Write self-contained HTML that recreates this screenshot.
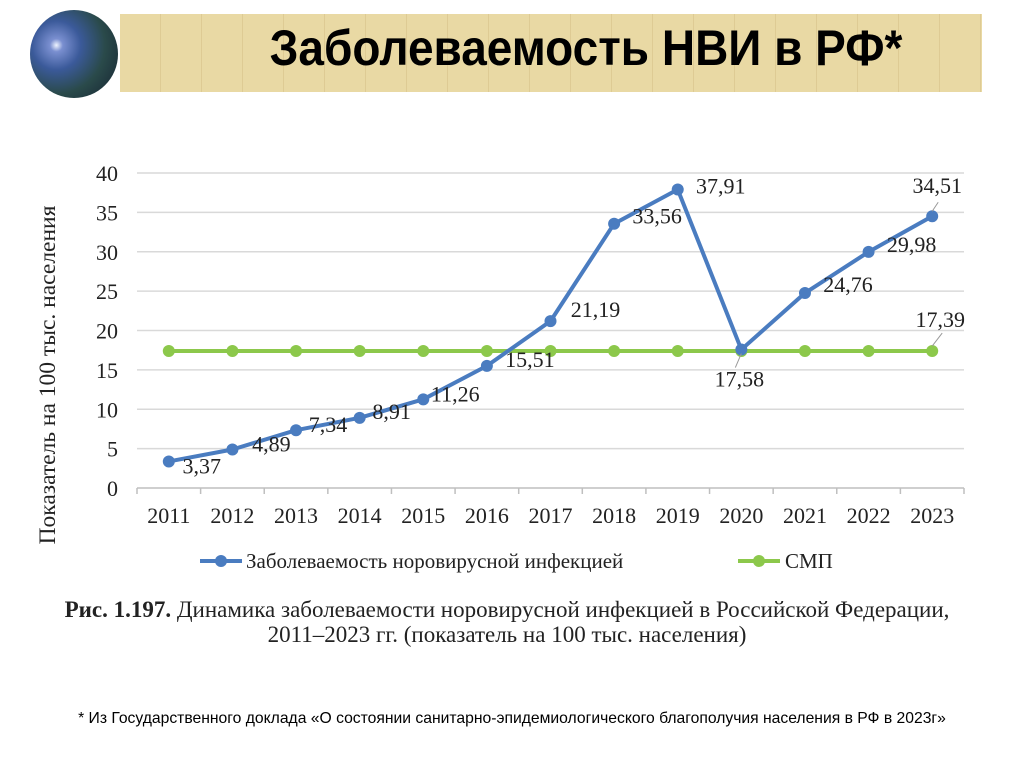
<!DOCTYPE html>
<html><head><meta charset="utf-8">
<style>
body{margin:0;width:1024px;height:767px;background:#fff;overflow:hidden;position:relative;font-family:"Liberation Sans",sans-serif}
#banner{position:absolute;left:120px;top:14px;width:862px;height:78px;background:#e9d9a4;background-image:repeating-linear-gradient(90deg,transparent 0,transparent 40px,rgba(190,160,100,0.25) 40px,rgba(190,160,100,0.25) 41px)}
#globe{position:absolute;left:30px;top:10px;width:88px;height:88px;border-radius:50%;background:radial-gradient(circle at 30% 40%,#eef4ff 0,#7a8fd0 8%,#3b5a9a 30%,#2a4a4a 60%,#142030 100%)}
#title{position:absolute;left:155px;width:862px;top:23px;line-height:50px;text-align:center;font-weight:bold;font-size:50px;color:#000;font-family:"Liberation Sans",sans-serif;transform:scaleX(0.92)}
#foot{position:absolute;left:0;width:1024px;top:710px;text-align:center;font-size:15.7px;color:#000}
</style></head><body>
<div id="banner"></div>
<div id="globe"></div>
<div id="title">Заболеваемость НВИ в РФ*</div>
<svg id="chart" width="1024" height="767" style="position:absolute;left:0;top:0"></svg>
<div id="foot">* Из Государственного доклада «О состоянии санитарно-эпидемиологического благополучия населения в РФ в 2023г»</div>
<script>
const years=["2011","2012","2013","2014","2015","2016","2017","2018","2019","2020","2021","2022","2023"];
const nviValues=[3.37,4.89,7.34,8.91,11.26,15.51,21.19,33.56,37.91,17.58,24.76,29.98,34.51];
const smpValues=[17.39,17.39,17.39,17.39,17.39,17.39,17.39,17.39,17.39,17.39,17.39,17.39,17.39];
const yTicks=[0,5,10,15,20,25,30,35,40];
const nviLabels=["3,37","4,89","7,34","8,91","11,26","15,51","21,19","33,56","37,91","17,58","24,76","29,98","34,51"];
const smpLabel="17,39";
// label offsets (layout only)
const ldx=[33,39,32,32,32,43,45,43,43,-2,43,43,5];
const ldy=[12,2,2,1,2,1,-4,0,4,37,-1,0,-23];
const NS="http://www.w3.org/2000/svg";
const svg=document.getElementById('chart');
const L=137,R=964,T=173,B=488,YMAX=40;
const bw=(R-L)/years.length;
const x=i=>L+bw*(i+0.5);
const y=v=>B-(v/YMAX)*(B-T);
function mk(t,a,p){const e=document.createElementNS(NS,t);for(const k in a)e.setAttribute(k,a[k]);(p||svg).appendChild(e);return e;}
const serif='"Liberation Serif",serif';
yTicks.forEach(t=>{
 const g=mk('line',{x1:L,x2:R,y1:y(t),y2:y(t),stroke:t===0?'#bfbfbf':'#d9d9d9','stroke-width':1.5});
 
 
 const tx=mk('text',{x:118,y:y(t)+8,'text-anchor':'end','font-size':22,'font-family':serif,fill:'#222'});tx.textContent=t;
 
 
});
years.forEach((yr,i)=>{
 mk('line',{x1:L+bw*i,x2:L+bw*i,y1:B,y2:B+6,stroke:'#bfbfbf','stroke-width':1.5});
 const tx=mk('text',{x:x(i),y:523,'text-anchor':'middle','font-size':22,'font-family':serif,fill:'#222'});tx.textContent=yr;
 
 
});
mk('line',{x1:R,x2:R,y1:B,y2:B+6,stroke:'#bfbfbf','stroke-width':1.5});
const yt=mk('text',{x:0,y:0,transform:'translate(55,375) rotate(-90)','text-anchor':'middle','font-size':23.5,'font-family':serif,fill:'#222'});
yt.textContent='Показатель на 100 тыс. населения';


function series(vals,color,name){
 const p=mk('polyline',{points:vals.map((v,i)=>x(i)+','+y(v)).join(' '),fill:'none',stroke:color,'stroke-width':4,'stroke-linejoin':'round'});
 
 
 vals.forEach((v,i)=>{const c=mk('circle',{cx:x(i),cy:y(v),r:6,fill:color});
 
 });
}
series(smpValues,'#8cc84b','smp');
series(nviValues,'#4a7cc0','nvi');
mk('line',{x1:x(9),y1:y(nviValues[9])+4,x2:x(9)-6,y2:y(nviValues[9])+18,stroke:'#999','stroke-width':1});
mk('line',{x1:x(12),y1:y(nviValues[12])-5,x2:x(12)+6,y2:y(nviValues[12])-14,stroke:'#999','stroke-width':1});
mk('line',{x1:x(12),y1:y(smpValues[12])-5,x2:x(12)+10,y2:y(smpValues[12])-18,stroke:'#999','stroke-width':1});
nviLabels.forEach((s,i)=>{
 const t=mk('text',{x:x(i)+ldx[i],y:y(nviValues[i])+ldy[i],'text-anchor':'middle','font-size':22,'font-family':serif,fill:'#222'});t.textContent=s;
 
 
});
const sl=mk('text',{x:x(12)+8,y:y(smpValues[12])-24,'text-anchor':'middle','font-size':22,'font-family':serif,fill:'#222'});sl.textContent=smpLabel;


const lg=mk('g',{});


mk('line',{x1:200,x2:242,y1:561,y2:561,stroke:'#4a7cc0','stroke-width':4},lg);
mk('circle',{cx:221,cy:561,r:6,fill:'#4a7cc0'},lg);
let t1=mk('text',{x:246,y:568,'font-size':21,'font-family':serif,fill:'#222'},lg);t1.textContent='Заболеваемость норовирусной инфекцией';


mk('line',{x1:738,x2:780,y1:561,y2:561,stroke:'#8cc84b','stroke-width':4},lg);
mk('circle',{cx:759,cy:561,r:6,fill:'#8cc84b'},lg);
let t2=mk('text',{x:785,y:568,'font-size':21,'font-family':serif,fill:'#222'},lg);t2.textContent='СМП';


const c1=mk('text',{x:507,y:617,'text-anchor':'middle','font-size':23,'font-family':serif,fill:'#222'});
c1.innerHTML='<tspan font-weight="bold">Рис. 1.197.</tspan> Динамика заболеваемости норовирусной инфекцией в Российской Федерации,';


const c2=mk('text',{x:507,y:642,'text-anchor':'middle','font-size':23,'font-family':serif,fill:'#222'});
c2.textContent='2011–2023 гг. (показатель на 100 тыс. населения)';


</script>
</body></html>
